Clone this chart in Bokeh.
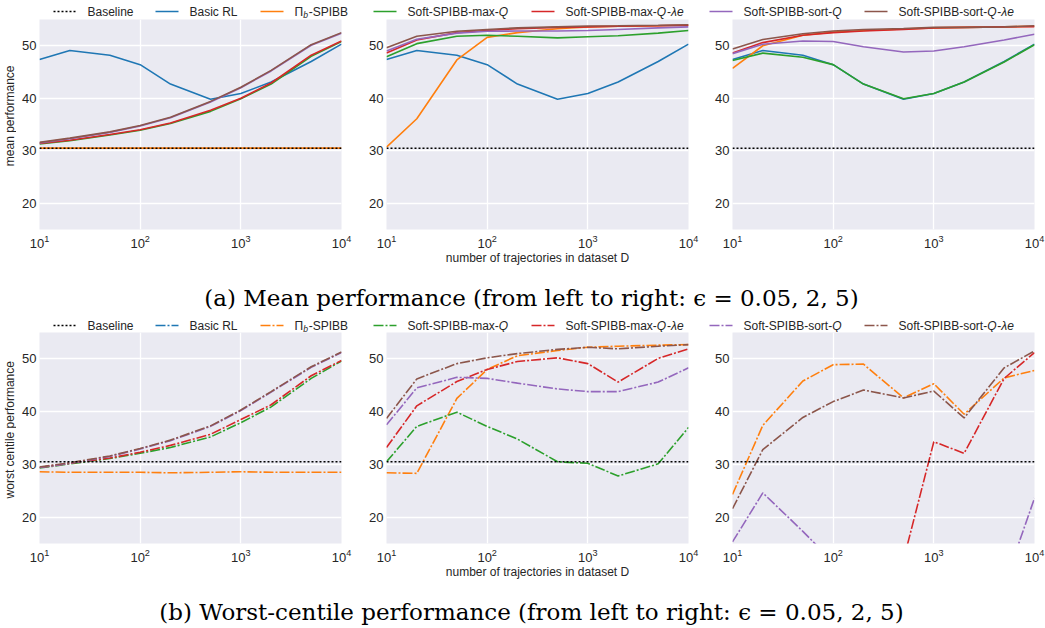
import math
from bokeh.plotting import figure
from bokeh.models import Range1d, FixedTicker, LogTickFormatter, Span
from bokeh.layouts import column, row
from bokeh.embed import file_html
from bokeh.resources import INLINE
from bokeh.core.properties import value

nan = float("nan")

# ---------------- data ----------------
n_trajectories = [10, 20, 50, 100, 200, 500, 1000, 2000, 5000, 10000]
x_ticks = [10, 100, 1000, 10000]
y_ticks = [20, 30, 40, 50]
baseline_perf = 30.5

# mean performance, Basic RL (same for all epsilons)
basic_rl_mean = [47.4, 49.1, 48.2, 46.4, 42.7, 39.8, 40.9, 43.1, 47.0, 50.3]

# mean performance, epsilon = 0.05
pib_mean_a = [30.5, 30.5, 30.5, 30.5, 30.5, 30.5, 30.5, 30.5, 30.5, 30.5]
maxq_mean_a = [31.3, 31.9, 33.0, 33.9, 35.2, 37.5, 39.9, 42.7, 48.0, 50.8]
maxqle_mean_a = [31.4, 32.0, 33.1, 34.0, 35.3, 37.7, 40.0, 42.9, 48.2, 50.9]
sortq_mean_a = [31.5, 32.3, 33.5, 34.7, 36.3, 39.3, 42.0, 45.2, 50.1, 52.4]
sortqle_mean_a = [31.6, 32.4, 33.6, 34.8, 36.4, 39.4, 42.1, 45.3, 50.2, 52.5]

# mean performance, epsilon = 2
pib_mean_b = [30.7, 36.1, 47.3, 51.6, 52.5, 53.25, 53.6, 53.7, 53.8, 53.9]
maxq_mean_b = [47.9, 50.4, 51.8, 52.0, 51.8, 51.5, 51.7, 51.9, 52.4, 52.9]
maxqle_mean_b = [48.6, 51.1, 52.5, 52.9, 53.25, 53.5, 53.6, 53.7, 53.8, 53.9]
sortq_mean_b = [49.0, 51.25, 52.4, 52.75, 52.8, 52.8, 52.9, 53.1, 53.4, 53.6]
sortqle_mean_b = [49.6, 51.8, 52.75, 53.1, 53.4, 53.6, 53.75, 53.8, 53.9, 54.0]

# mean performance, epsilon = 5
pib_mean_c = [45.7, 50.0, 52.0, 52.6, 52.9, 53.2, 53.4, 53.5, 53.6, 53.7]
maxq_mean_c = [47.2, 48.6, 47.8, 46.4, 42.7, 39.9, 40.9, 43.1, 46.9, 50.2]
maxqle_mean_c = [48.6, 50.6, 52.0, 52.5, 52.8, 53.1, 53.4, 53.5, 53.6, 53.65]
sortq_mean_c = [48.5, 50.3, 50.9, 50.8, 49.8, 48.8, 49.0, 49.8, 51.1, 52.2]
sortqle_mean_c = [49.4, 51.2, 52.3, 52.8, 53.1, 53.3, 53.5, 53.5, 53.6, 53.8]

# worst-centile performance (Basic RL stays below the visible range)
# epsilon = 0.05
pib_worst_a = [28.6, 28.5, 28.5, 28.5, 28.4, 28.5, 28.6, 28.5, 28.5, 28.5]
maxq_worst_a = [29.3, 30.1, 31.1, 32.1, 33.2, 35.2, 37.9, 40.9, 46.3, 49.6]
maxqle_worst_a = [29.4, 30.2, 31.2, 32.3, 33.6, 35.7, 38.5, 41.3, 46.8, 49.7]
sortq_worst_a = [29.4, 30.2, 31.5, 32.9, 34.5, 37.2, 40.2, 43.7, 48.4, 51.2]
sortqle_worst_a = [29.5, 30.3, 31.6, 33.0, 34.6, 37.3, 40.3, 43.8, 48.5, 51.3]
# epsilon = 2
pib_worst_b = [28.4, 28.3, 42.5, 48.0, 50.6, 51.6, 52.2, 52.4, 52.6, 52.7]
maxq_worst_b = [30.5, 37.2, 39.9, 37.2, 34.8, 30.5, 30.2, 27.8, 30.1, 37.0]
maxqle_worst_b = [33.2, 41.1, 45.7, 48.0, 49.5, 50.2, 49.1, 45.6, 50.1, 51.9]
sortq_worst_b = [37.5, 44.5, 46.5, 46.3, 45.4, 44.3, 43.8, 43.8, 45.6, 48.3]
sortqle_worst_b = [38.7, 46.2, 49.1, 50.2, 51.0, 51.8, 52.2, 51.9, 52.4, 52.7]
# epsilon = 5 (nan = below the visible range)
pib_worst_c = [24.3, 37.4, 45.8, 48.9, 49.0, 42.6, 45.3, 39.5, 46.4, 47.8]
maxqle_worst_c = [nan, nan, nan, nan, nan, 11.9, 34.3, 32.1, 46.3, 51.2]
sortq_worst_c = [15.3, 24.6, 17.3, 11.5, nan, nan, nan, nan, 7.1, 23.6]
sortqle_worst_c = [21.6, 32.8, 38.9, 41.9, 44.1, 42.6, 43.9, 38.8, 48.3, 51.5]

mean_panels = [
    {"basic": basic_rl_mean, "pib": pib_mean_a, "maxq": maxq_mean_a, "maxqle": maxqle_mean_a, "sortq": sortq_mean_a, "sortqle": sortqle_mean_a},
    {"basic": basic_rl_mean, "pib": pib_mean_b, "maxq": maxq_mean_b, "maxqle": maxqle_mean_b, "sortq": sortq_mean_b, "sortqle": sortqle_mean_b},
    {"basic": basic_rl_mean, "pib": pib_mean_c, "maxq": maxq_mean_c, "maxqle": maxqle_mean_c, "sortq": sortq_mean_c, "sortqle": sortqle_mean_c},
]
worst_panels = [
    {"pib": pib_worst_a, "maxq": maxq_worst_a, "maxqle": maxqle_worst_a, "sortq": sortq_worst_a, "sortqle": sortqle_worst_a},
    {"pib": pib_worst_b, "maxq": maxq_worst_b, "maxqle": maxqle_worst_b, "sortq": sortq_worst_b, "sortqle": sortqle_worst_b},
    {"pib": pib_worst_c, "maxqle": maxqle_worst_c, "sortq": sortq_worst_c, "sortqle": sortqle_worst_c},
]

series_order = ["basic", "pib", "maxq", "maxqle", "sortq", "sortqle"]
colors = {"basic": "#1f77b4", "pib": "#ff7f0e", "maxq": "#2ca02c",
          "maxqle": "#d62728", "sortq": "#9467bd", "sortqle": "#8c564b"}

# legend: (key, [(text, style, subscript)])
legend_entries = [
    ("baseline", [("Baseline", "normal", False)]),
    ("basic", [("Basic RL", "normal", False)]),
    ("pib", [("\u03a0", "normal", False), ("b", "italic", True), ("-SPIBB", "normal", False)]),
    ("maxq", [("Soft-SPIBB-max-", "normal", False), ("Q", "italic", False)]),
    ("maxqle", [("Soft-SPIBB-max-", "normal", False), ("Q", "italic", False), ("-", "normal", False), ("\u03bbe", "italic", False)]),
    ("sortq", [("Soft-SPIBB-sort-", "normal", False), ("Q", "italic", False)]),
    ("sortqle", [("Soft-SPIBB-sort-", "normal", False), ("Q", "italic", False), ("-", "normal", False), ("\u03bbe", "italic", False)]),
]
legend_text_x = [87, 189, 294, 407, 565, 743, 898]

caption_a = "(a) Mean performance (from left to right: \u03f5 = 0.05, 2, 5)"
caption_b = "(b) Worst-centile performance (from left to right: \u03f5 = 0.05, 2, 5)"
x_label = "number of trajectories in dataset D"
y_label_mean = "mean performance"
y_label_worst = "worst centile performance"

# ---------------- style / layout ----------------
BG = "#EAEAF2"
TXT = "#262626"
SANS = "Liberation Sans"
SERIF = "DejaVu Serif"
TOTAL_W = 1045
FR_W = 302
BOT = 45
YSTRIP_W = 16
borders = [(23, 22), (23, 21), (23, 11)]
SOLID = "solid"
DASHDOT = "10 2 2 2"
DOTTED = "2 2"
LW = 1.6

ARIAL_W = {"B": 667, "a": 556, "s": 500, "e": 556, "l": 222, "i": 222, "n": 556,
           "c": 500, "R": 722, "L": 556, " ": 278, "\u03a0": 722, "b": 556, "-": 333,
           "S": 667, "P": 667, "I": 278, "o": 556, "f": 278, "t": 278, "m": 833,
           "x": 500, "Q": 778, "\u03bb": 520, "r": 333}


def tw(s, size):
    return sum(ARIAL_W.get(c, 556) for c in s) * size / 1000.0


def make_panel(idx, data, dash, show_xlabel, fr_h):
    left, right = borders[idx]
    p = figure(width=left + FR_W + right, height=fr_h + BOT, x_axis_type="log",
               x_range=Range1d(10, 10000), y_range=Range1d(15, 55),
               output_backend="svg", toolbar_location=None, title=None,
               min_border_left=left, min_border_right=right,
               min_border_top=0, min_border_bottom=BOT)
    p.background_fill_color = BG
    p.border_fill_color = "white"
    p.outline_line_color = None
    p.xaxis.ticker = FixedTicker(ticks=x_ticks)
    p.xaxis.formatter = LogTickFormatter()
    p.yaxis.ticker = FixedTicker(ticks=y_ticks)
    p.grid.grid_line_color = "white"
    p.grid.grid_line_width = 1.3
    p.axis.axis_line_color = None
    p.axis.major_tick_line_color = None
    p.axis.minor_tick_line_color = None
    p.axis.major_tick_out = 0
    p.axis.major_tick_in = 0
    p.axis.major_label_text_font = SANS
    p.axis.major_label_text_font_size = "13px"
    p.axis.major_label_text_color = TXT
    p.xaxis.major_label_standoff = 5
    p.yaxis.major_label_standoff = 3
    p.xaxis.axis_label_text_font = SANS
    p.xaxis.axis_label_text_font_size = "12px"
    p.xaxis.axis_label_text_font_style = "normal"
    p.xaxis.axis_label_text_color = TXT
    p.xaxis.axis_label_standoff = 0
    p.xaxis.axis_label = x_label if show_xlabel else " "
    for key in series_order:
        if key in data:
            p.line(n_trajectories, data[key], line_color=colors[key],
                   line_width=LW, line_dash=dash)
    p.add_layout(Span(location=baseline_perf, dimension="width",
                      line_color="black", line_width=1.5, line_dash=DOTTED))
    return p


def strip(w, h):
    s = figure(width=w, height=h, x_range=Range1d(0, w), y_range=Range1d(h, 0),
               output_backend="svg", toolbar_location=None, title=None, min_border=0,
               x_axis_location=None, y_axis_location=None)
    s.grid.visible = False
    s.outline_line_color = None
    s.background_fill_color = "white"
    s.border_fill_color = "white"
    return s


def draw_legend(s, ly, dash):
    size = 12
    for (key, pieces), tx in zip(legend_entries, legend_text_x):
        if key == "baseline":
            s.line([tx - 34, tx - 11], [ly, ly], line_color="black", line_width=1.5, line_dash=DOTTED)
        else:
            s.line([tx - 34, tx - 11], [ly, ly], line_color=colors[key], line_width=LW, line_dash=dash)
        x = tx
        for text, style, sub in pieces:
            fs = size * 0.72 if sub else size
            s.text(x=[x], y=[ly + (3 if sub else 0)], text=[text], text_font=value(SANS),
                   text_font_size=f"{fs:.1f}px", text_font_style=style, text_color=TXT,
                   text_baseline="middle", text_align="left")
            x += tw(text, fs) + (0.8 if style == "italic" else 0)


def draw_caption(s, cy, text):
    s.text(x=[531], y=[cy], text=[text], text_font=value(SERIF),
           text_font_size="23px", text_color="black", text_baseline="middle", text_align="center")


def panel_row(panels, ylabel, dash, fr_h, ylabel_y):
    ys = strip(YSTRIP_W, fr_h + BOT)
    ys.text(x=[9], y=[ylabel_y], text=[ylabel], angle=math.pi / 2, text_font=value(SANS),
            text_font_size="12px", text_color=TXT, text_baseline="middle", text_align="center")
    figs = [make_panel(i, panels[i], dash, i == 1, fr_h) for i in range(3)]
    return row(ys, *figs)


s1 = strip(TOTAL_W, 19)
draw_legend(s1, 11, SOLID)

row_a = panel_row(mean_panels, y_label_mean, SOLID, 210, 117)

s2 = strip(TOTAL_W, 58)
draw_caption(s2, 23, caption_a)
draw_legend(s2, 51, DASHDOT)

row_b = panel_row(worst_panels, y_label_worst, DASHDOT, 211, 118)

s3 = strip(TOTAL_W, 40)
draw_caption(s3, 23, caption_b)

layout = column(s1, row_a, s2, row_b, s3)

open("out.html", "w").write(file_html(layout, INLINE))
